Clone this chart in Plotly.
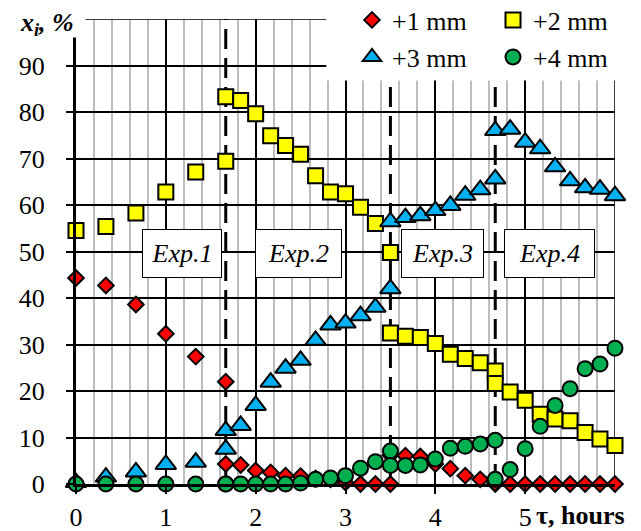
import plotly.graph_objects as go

# ---------------- data (time in hours, fractions in %) ----------------
t_exp1 = [0.0, 0.333, 0.667, 1.0, 1.333, 1.667]
t_exp2 = [1.667, 1.833, 2.0, 2.167, 2.333, 2.5, 2.667, 2.833, 3.0, 3.167, 3.333, 3.5]
t_exp3 = [3.5, 3.667, 3.833, 4.0, 4.167, 4.333, 4.5, 4.667]
t_exp4 = [4.667, 4.833, 5.0, 5.167, 5.333, 5.5, 5.667, 5.833, 6.0]

mm1_exp1 = [44.3, 42.7, 38.6, 32.3, 27.4, 22.0]
mm2_exp1 = [54.5, 55.4, 58.3, 62.8, 67.1, 69.4]
mm3_exp1 = [0.3, 1.5, 2.6, 4.2, 4.7, 7.5]
mm4_exp1 = [0.0, 0.0, 0.0, 0.0, 0.0, 0.0]

mm1_exp2 = [4.3, 4.1, 2.9, 2.5, 1.8, 1.7, 1.2, 1.0, 0.3, 0.0, 0.0, 0.0]
mm2_exp2 = [83.3, 82.5, 79.6, 74.9, 72.8, 70.9, 66.3, 62.8, 62.4, 59.5, 56.0, 49.8]
mm3_exp2 = [11.5, 12.6, 16.9, 21.9, 24.9, 26.6, 30.9, 34.2, 34.6, 36.2, 38.0, 42.0]
mm4_exp2 = [0.0, 0.0, 0.0, 0.0, 0.0, 0.2, 1.0, 1.3, 1.8, 3.4, 4.8, 7.1]

mm1_exp3 = [6.2, 6.1, 5.9, 4.3, 3.3, 1.8, 1.0, 0.0]
mm2_exp3 = [32.5, 31.8, 31.5, 30.2, 27.9, 27.0, 26.1, 24.3]
mm3_exp3 = [56.4, 57.3, 57.7, 58.8, 59.9, 62.1, 63.3, 65.6]
mm4_exp3 = [4.0, 4.0, 4.1, 5.4, 7.7, 8.1, 8.6, 9.4]

mm1_exp4 = [0.2, 0.0, 0.0, 0.0, 0.0, 0.0, 0.0, 0.0, 0.0]
mm2_exp4 = [21.6, 19.8, 18.0, 15.0, 14.0, 13.6, 11.1, 9.7, 8.3]
mm3_exp4 = [76.0, 76.3, 73.5, 72.1, 68.2, 65.2, 63.7, 63.4, 62.0]
mm4_exp4 = [1.0, 3.1, 7.6, 12.4, 16.9, 20.5, 24.8, 25.8, 29.2]

series_names = ["+1 mm", "+2 mm", "+3 mm", "+4 mm"]
exp_boundaries = [1.667, 3.5, 4.667]
exp_labels = ["Exp.1", "Exp.2", "Exp.3", "Exp.4"]
x_tick_vals = [0, 1, 2, 3, 4, 5]
y_tick_vals = [0, 10, 20, 30, 40, 50, 60, 70, 80, 90]
X_MAX, Y_MAX = 6, 100

t_all = t_exp1 + t_exp2 + t_exp3 + t_exp4
series = [
    mm1_exp1 + mm1_exp2 + mm1_exp3 + mm1_exp4,
    mm2_exp1 + mm2_exp2 + mm2_exp3 + mm2_exp4,
    mm3_exp1 + mm3_exp2 + mm3_exp3 + mm3_exp4,
    mm4_exp1 + mm4_exp2 + mm4_exp3 + mm4_exp4,
]

FONT = "Liberation Serif, Times New Roman, serif"
FS = 26
W, H = 641, 531
ML, MR, MT, MB = 75.5, 26, 18.5, 47
PW = W - ML - MR
PH = H - MT - MB


def px_x(p):
    return (p - ML) / PW


def px_y(p):
    return (H - MB - p) / PH


styles = [
    dict(symbol="diamond", color="#FF0000", size=12),
    dict(symbol="square", color="#FFFF00", size=15),
    dict(symbol="triangle-up", color="#00B0F0", size=18),
    dict(symbol="circle", color="#00B050", size=15),
]
# legend anchor positions in container fractions (left, middle)
legend_pos = [(352 / W, 1 - 20 / H), (493 / W, 1 - 20 / H),
              (352 / W, 1 - 57 / H), (493 / W, 1 - 57 / H)]

fig = go.Figure()
for i, (name, ys, st) in enumerate(zip(series_names, series, styles)):
    lg = "legend" if i == 0 else f"legend{i + 1}"
    fig.add_trace(go.Scatter(
        x=t_all, y=ys, mode="markers", name=name, legend=lg,
        cliponaxis=False,
        marker=dict(symbol=st["symbol"], size=st["size"], color=st["color"],
                    line=dict(color="black", width=2)),
    ))

layout_legends = {}
for i, (lx, ly) in enumerate(legend_pos):
    key = "legend" if i == 0 else f"legend{i + 1}"
    layout_legends[key] = dict(
        x=lx, y=ly, xref="container", yref="container",
        xanchor="left", yanchor="middle", bgcolor="rgba(0,0,0,0)",
        font=dict(family=FONT, size=FS, color="black"),
        borderwidth=0,
    )

shapes = []
# frame lines at top and right (thin, like the grid)
shapes.append(dict(type="line", xref="x", yref="y", x0=0, x1=X_MAX, y0=Y_MAX, y1=Y_MAX,
                   line=dict(color="black", width=1.5), layer="between"))
shapes.append(dict(type="line", xref="x", yref="y", x0=X_MAX, x1=X_MAX, y0=0, y1=Y_MAX,
                   line=dict(color="black", width=1.5), layer="between"))
for b in exp_boundaries:
    shapes.append(dict(type="line", xref="x", yref="y", x0=b, x1=b, y0=0, y1=Y_MAX,
                       line=dict(color="black", width=3, dash="20px,9px"), layer="between"))
# white area behind legend and behind y title
shapes.append(dict(type="rect", xref="paper", yref="paper",
                   x0=px_x(326), x1=px_x(W), y0=px_y(80), y1=px_y(0),
                   fillcolor="white", line=dict(width=0), layer="above"))
shapes.append(dict(type="rect", xref="paper", yref="paper",
                   x0=px_x(0), x1=px_x(85), y0=px_y(37), y1=px_y(0),
                   fillcolor="white", line=dict(width=0), layer="above"))

annotations = []
exp_box_x = [1.185, 2.48, 4.08, 5.27]
exp_box_w = [78, 85, 81, 89]
for lbl, bx, bw in zip(exp_labels, exp_box_x, exp_box_w):
    annotations.append(dict(
        x=bx, y=49.5, xref="x", yref="y", text=f"<i>{lbl}</i>", showarrow=False,
        font=dict(family=FONT, size=FS, color="black"),
        bgcolor="white", bordercolor="black", borderwidth=1, borderpad=0,
        width=bw, height=47, xanchor="center", yanchor="middle"))
annotations.append(dict(
    x=px_x(17), y=px_y(24), xref="paper", yref="paper",
    text="<b><i>x<sub>i</sub>, %</i></b>",
    showarrow=False, xanchor="left", yanchor="middle",
    font=dict(family=FONT, size=FS, color="black")))
annotations.append(dict(
    x=px_x(534), y=px_y(516), xref="paper", yref="paper",
    text="<b>τ, hours</b>", showarrow=False, xanchor="left", yanchor="middle",
    font=dict(family=FONT, size=FS, color="black")))

fig.update_layout(
    width=W, height=H,
    margin=dict(l=ML, r=MR, t=MT, b=MB, pad=0, autoexpand=False),
    paper_bgcolor="white", plot_bgcolor="white",
    font=dict(family=FONT, size=FS, color="black"),
    showlegend=True,
    shapes=shapes, annotations=annotations,
    **layout_legends,
)
fig.update_xaxes(
    range=[0, X_MAX], tickvals=x_tick_vals,
    showgrid=True, gridcolor="black", gridwidth=1.5,
    minor=dict(dtick=0.2, showgrid=True, gridcolor="#BDBDBD", gridwidth=2, ticks=""),
    showline=True, linecolor="black", linewidth=3,
    ticks="outside", ticklen=7, tickwidth=2, tickcolor="black",
    zeroline=False, ticklabelstandoff=1,
    tickfont=dict(family=FONT, size=FS, color="black"),
)
fig.update_yaxes(
    range=[0, Y_MAX], tickvals=y_tick_vals,
    showgrid=True, gridcolor="black", gridwidth=1.5,
    showline=True, linecolor="black", linewidth=3,
    ticks="outside", ticklen=7, tickwidth=2, tickcolor="black",
    zeroline=False, ticklabelstandoff=16,
    tickfont=dict(family=FONT, size=FS, color="black"),
)

fig.write_html("out.html")
